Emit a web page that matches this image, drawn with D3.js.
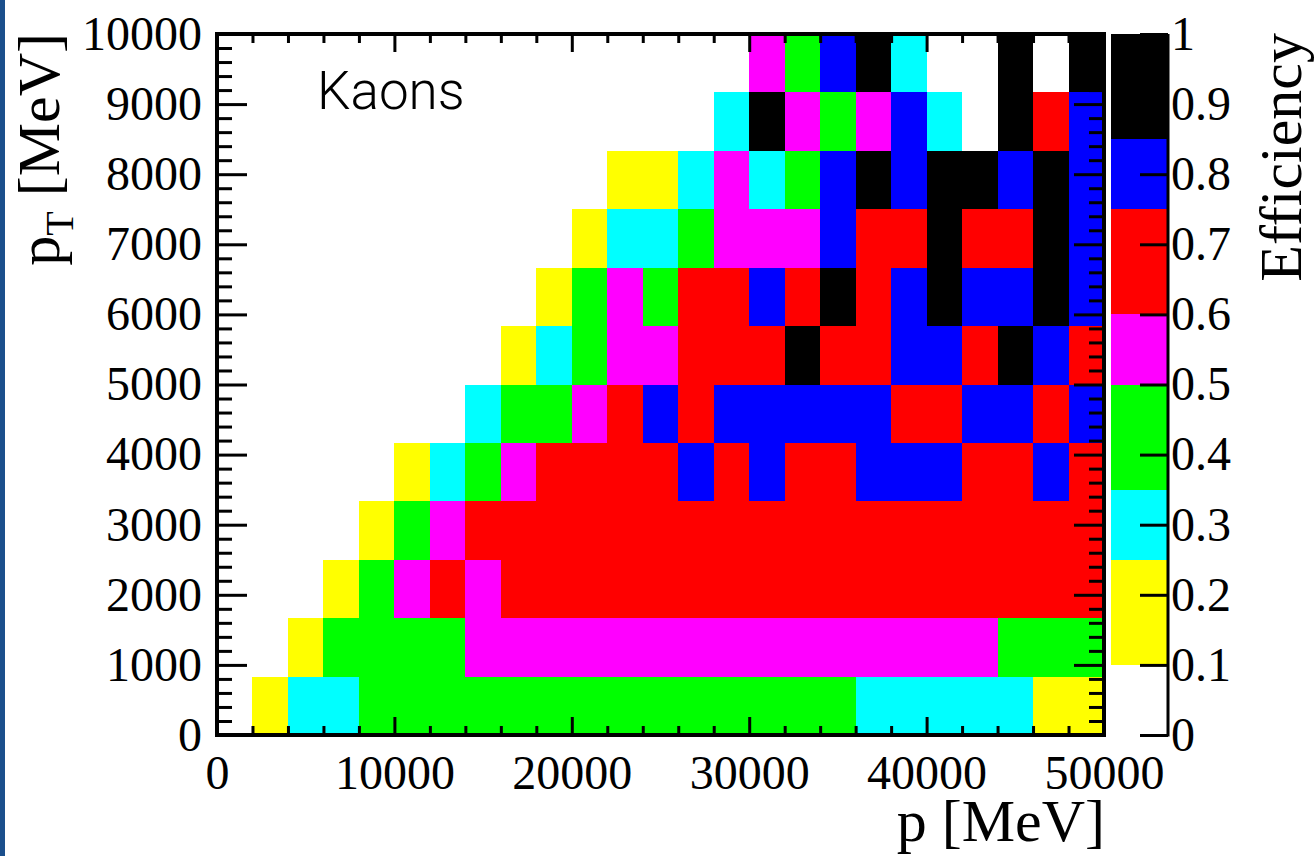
<!DOCTYPE html>
<html>
<head>
<meta charset="utf-8">
<script src="https://cdn.jsdelivr.net/npm/d3@7"></script>
<style>
  html, body { margin: 0; padding: 0; background: #ffffff; }
  svg { display: block; }
</style>
</head>
<body>
<svg id="chart" width="1316" height="856"></svg>
<script>
// Binning of the efficiency map
const pRange = [0, 50000];      // p [MeV]
const pBinCount = 25;
const ptRange = [0, 10000];     // pT [MeV]
const ptBinCount = 12;

// Axis tick labels
const pTicks = [0, 10000, 20000, 30000, 40000, 50000];
const ptTicks = [0, 1000, 2000, 3000, 4000, 5000, 6000, 7000, 8000, 9000, 10000];
const effTicks = [0, 0.1, 0.2, 0.3, 0.4, 0.5, 0.6, 0.7, 0.8, 0.9, 1];

// Colour contours of the z axis
const contourLevels = [0.1, 0.25, 0.35, 0.5, 0.6, 0.75, 0.85];
const palette = ["#ffffff", "#ffff00", "#00ffff", "#00ff00", "#ff00ff", "#ff0000", "#0000ff", "#000000"];

// Kaon efficiency, one array per pT bin (lowest first), 25 p bins each; 0 = empty bin
const effPt0  = [0, 0.17, 0.30, 0.30, 0.43, 0.43, 0.43, 0.43, 0.43, 0.43, 0.43, 0.43, 0.43, 0.43, 0.43, 0.43, 0.43, 0.43, 0.30, 0.30, 0.30, 0.30, 0.30, 0.17, 0.17];
const effPt1  = [0, 0, 0.17, 0.43, 0.43, 0.43, 0.43, 0.55, 0.55, 0.55, 0.55, 0.55, 0.55, 0.55, 0.55, 0.55, 0.55, 0.55, 0.55, 0.55, 0.55, 0.55, 0.43, 0.43, 0.43];
const effPt2  = [0, 0, 0, 0.17, 0.43, 0.55, 0.67, 0.55, 0.67, 0.67, 0.67, 0.67, 0.67, 0.67, 0.67, 0.67, 0.67, 0.67, 0.67, 0.67, 0.67, 0.67, 0.67, 0.67, 0.67];
const effPt3  = [0, 0, 0, 0, 0.17, 0.43, 0.55, 0.67, 0.67, 0.67, 0.67, 0.67, 0.67, 0.67, 0.67, 0.67, 0.67, 0.67, 0.67, 0.67, 0.67, 0.67, 0.67, 0.67, 0.67];
const effPt4  = [0, 0, 0, 0, 0, 0.17, 0.30, 0.43, 0.55, 0.67, 0.67, 0.67, 0.67, 0.80, 0.67, 0.80, 0.67, 0.67, 0.80, 0.80, 0.80, 0.67, 0.67, 0.80, 0.67];
const effPt5  = [0, 0, 0, 0, 0, 0, 0, 0.30, 0.43, 0.43, 0.55, 0.67, 0.80, 0.67, 0.80, 0.80, 0.80, 0.80, 0.80, 0.67, 0.67, 0.80, 0.80, 0.67, 0.80];
const effPt6  = [0, 0, 0, 0, 0, 0, 0, 0, 0.17, 0.30, 0.43, 0.55, 0.55, 0.67, 0.67, 0.67, 0.92, 0.67, 0.67, 0.80, 0.80, 0.67, 0.92, 0.80, 0.67];
const effPt7  = [0, 0, 0, 0, 0, 0, 0, 0, 0, 0.17, 0.43, 0.55, 0.43, 0.67, 0.67, 0.80, 0.67, 0.92, 0.67, 0.80, 0.92, 0.80, 0.80, 0.92, 0.80];
const effPt8  = [0, 0, 0, 0, 0, 0, 0, 0, 0, 0, 0.17, 0.30, 0.30, 0.43, 0.55, 0.55, 0.55, 0.80, 0.67, 0.67, 0.92, 0.67, 0.67, 0.92, 0.80];
const effPt9  = [0, 0, 0, 0, 0, 0, 0, 0, 0, 0, 0, 0.17, 0.17, 0.30, 0.55, 0.30, 0.43, 0.80, 0.92, 0.80, 0.92, 0.92, 0.80, 0.92, 0.80];
const effPt10 = [0, 0, 0, 0, 0, 0, 0, 0, 0, 0, 0, 0, 0, 0, 0.30, 0.92, 0.55, 0.43, 0.55, 0.80, 0.30, 0, 0.92, 0.67, 0.80];
const effPt11 = [0, 0, 0, 0, 0, 0, 0, 0, 0, 0, 0, 0, 0, 0, 0, 0.55, 0.43, 0.80, 0.92, 0.30, 0, 0, 0.92, 0, 0.92];

const effRows = [effPt0, effPt1, effPt2, effPt3, effPt4, effPt5, effPt6, effPt7, effPt8, effPt9, effPt10, effPt11];

// ---- layout ----
const frame = { left: 217, right: 1104, top: 34, bottom: 735 };
const bar = { left: 1111, right: 1168 };
const serif = "'Liberation Serif', 'Times New Roman', serif";
const tickFont = 48;
const titleFont = 60;

const svg = d3.select("#chart");

// thin blue strip along the left edge of the canvas
svg.append("rect").attr("x", 0).attr("y", 0).attr("width", 5).attr("height", 856).attr("fill", "#1b4f8c");

const x = d3.scaleLinear().domain(pRange).range([frame.left, frame.right]);
const y = d3.scaleLinear().domain(ptRange).range([frame.bottom, frame.top]);
const z = d3.scaleLinear().domain([0, 1]).range([frame.bottom, frame.top]);
const color = d3.scaleThreshold().domain(contourLevels).range(palette);

const pBin = (pRange[1] - pRange[0]) / pBinCount;
const ptBin = (ptRange[1] - ptRange[0]) / ptBinCount;

// ---- histogram cells ----
const cells = [];
effRows.forEach((row, j) => row.forEach((v, i) => { if (v > 0) cells.push({ i, j, v }); }));

svg.append("g")
  .attr("shape-rendering", "crispEdges")
  .selectAll("rect")
  .data(cells)
  .join("rect")
  .attr("x", d => x(pRange[0] + d.i * pBin))
  .attr("width", d => x(pRange[0] + (d.i + 1) * pBin) - x(pRange[0] + d.i * pBin))
  .attr("y", d => y(ptRange[0] + (d.j + 1) * ptBin))
  .attr("height", d => y(ptRange[0] + d.j * ptBin) - y(ptRange[0] + (d.j + 1) * ptBin))
  .attr("fill", d => color(d.v));

// ---- axes ----
const pMinor = d3.range(pRange[0], pRange[1] + 1, 2000).filter(v => !pTicks.includes(v));
const ptMinor = d3.range(ptRange[0], ptRange[1] + 1, 200).filter(v => !ptTicks.includes(v));

function styleAxis(g) {
  g.select(".domain").remove();
  g.selectAll(".tick line").attr("stroke", "#000").attr("stroke-width", 3);
  g.attr("font-family", serif).attr("font-size", tickFont);
  g.selectAll(".tick text").attr("fill", "#000");
}

const axes = svg.append("g");

// bottom (labelled) and top
axes.append("g").attr("transform", `translate(0,${frame.bottom})`)
  .call(d3.axisBottom(x).tickValues(pTicks).tickSize(-18).tickSizeOuter(0).tickPadding(20).tickFormat(d3.format("d")))
  .call(styleAxis);
axes.append("g").attr("transform", `translate(0,${frame.bottom})`)
  .call(d3.axisBottom(x).tickValues(pMinor).tickSize(-9).tickSizeOuter(0).tickFormat(""))
  .call(styleAxis);
axes.append("g").attr("transform", `translate(0,${frame.top})`)
  .call(d3.axisTop(x).tickValues(pTicks).tickSize(-18).tickSizeOuter(0).tickFormat(""))
  .call(styleAxis);
axes.append("g").attr("transform", `translate(0,${frame.top})`)
  .call(d3.axisTop(x).tickValues(pMinor).tickSize(-9).tickSizeOuter(0).tickFormat(""))
  .call(styleAxis);

// left (labelled) and right
axes.append("g").attr("transform", `translate(${frame.left},0)`)
  .call(d3.axisLeft(y).tickValues(ptTicks).tickSize(-30).tickSizeOuter(0).tickPadding(15).tickFormat(d3.format("d")))
  .call(styleAxis);
axes.append("g").attr("transform", `translate(${frame.left},0)`)
  .call(d3.axisLeft(y).tickValues(ptMinor).tickSize(-15).tickSizeOuter(0).tickFormat(""))
  .call(styleAxis);
axes.append("g").attr("transform", `translate(${frame.right},0)`)
  .call(d3.axisRight(y).tickValues(ptTicks).tickSize(-30).tickSizeOuter(0).tickFormat(""))
  .call(styleAxis);
axes.append("g").attr("transform", `translate(${frame.right},0)`)
  .call(d3.axisRight(y).tickValues(ptMinor).tickSize(-15).tickSizeOuter(0).tickFormat(""))
  .call(styleAxis);

// frame
svg.append("rect")
  .attr("x", frame.left).attr("y", frame.top)
  .attr("width", frame.right - frame.left).attr("height", frame.bottom - frame.top)
  .attr("fill", "none").attr("stroke", "#000").attr("stroke-width", 4);

// ---- colour bar ----
const bandEdges = [0, ...contourLevels, 1];
const bands = palette.map((c, k) => ({ c, lo: bandEdges[k], hi: bandEdges[k + 1] }));
svg.append("g")
  .attr("shape-rendering", "crispEdges")
  .selectAll("rect")
  .data(bands)
  .join("rect")
  .attr("x", bar.left)
  .attr("width", bar.right - bar.left)
  .attr("y", d => z(d.hi))
  .attr("height", d => z(d.lo) - z(d.hi))
  .attr("fill", d => d.c);

svg.append("g").attr("transform", `translate(${bar.right},0)`)
  .call(d3.axisRight(z).tickValues(effTicks).tickSize(-28).tickSizeOuter(0).tickPadding(3).tickFormat(d3.format("~g")))
  .call(styleAxis);
svg.append("line")
  .attr("x1", bar.right).attr("x2", bar.right)
  .attr("y1", z(0) + 1.5).attr("y2", z(1))
  .attr("stroke", "#000").attr("stroke-width", 3);

// ---- titles ----
svg.append("text")
  .attr("x", frame.right + 1).attr("y", 841)
  .attr("text-anchor", "end")
  .attr("font-family", serif).attr("font-size", titleFont)
  .text("p [MeV]");

const yTitle = svg.append("text")
  .attr("transform", `translate(59,${frame.top - 1}) rotate(-90)`)
  .attr("text-anchor", "end")
  .attr("font-family", serif).attr("font-size", titleFont);
yTitle.append("tspan").text("p");
yTitle.append("tspan").attr("font-size", 40).attr("dy", 14).text("T");
yTitle.append("tspan").attr("dy", -14).text(" [MeV]");

svg.append("text")
  .attr("transform", `translate(1301,${frame.top - 1}) rotate(-90)`)
  .attr("text-anchor", "end")
  .attr("font-family", serif).attr("font-size", titleFont)
  .text("Efficiency");

svg.append("text")
  .attr("x", 317).attr("y", 109)
  .attr("font-family", "Roboto, 'Open Sans', sans-serif")
  .attr("font-weight", 300)
  .attr("font-size", 53)
  .text("Kaons");
</script>
</body>
</html>
